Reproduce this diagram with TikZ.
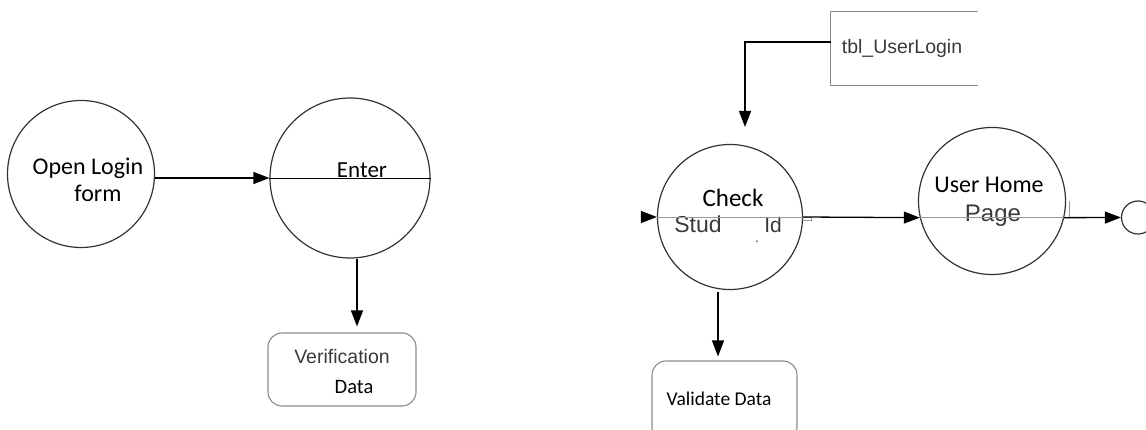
\documentclass[tikz,border=0pt]{standalone}
\usepackage{fontspec}
\setmainfont{Carlito}
\newfontfamily\arialf{Liberation Sans}
\usetikzlibrary{arrows.meta,calc}
\definecolor{circ}{HTML}{333333}
\definecolor{boxg}{HTML}{8A8A8A}
\definecolor{txtg}{HTML}{3A3A3A}
\definecolor{lineg}{HTML}{9A9A9A}
\tikzset{
  proc/.style={circle,draw=circ,line width=1.2pt,inner sep=0pt},
  ext/.style={draw=boxg,line width=1.1pt,rounded corners=14pt,inner sep=0pt},
  arr/.style={line width=1.3pt,-{Triangle[length=16pt,width=12pt]}},
  thin/.style={line width=0.9pt},
  lbl/.style={inner sep=0pt,anchor=base},
  cal/.style={lbl,font=\fontsize{24}{28}\selectfont},
  ari/.style={lbl,text=txtg,font=\arialf\fontsize{20}{24}\selectfont},
}
\begin{document}
\begin{tikzpicture}[x=1pt,y=-1pt]
\useasboundingbox (0,0) rectangle (1146,430);
\clip (0,0) rectangle (1146,430);
% left part
\node[proc,minimum size=147pt] (open) at (81,174) {};
\node[proc,minimum size=160pt] (enter) at (350,178) {};
\node[ext,minimum width=148pt,minimum height=73pt] (verif) at (342,369.5) {};
\node[cal] (t1) at (88,175) {Open Login};
\node[cal] (t2) at (98,202) {form};
\node[cal,font=\fontsize{23}{27}\selectfont] (t3) at (362,178) {Enter};
\node[ari,font=\arialf\fontsize{19.5}{23}\selectfont] (t4) at (342,363) {Verification};
\node[cal,font=\fontsize{20.5}{24}\selectfont] (t5) at (354,393) {Data};
\draw[thin,black] (enter.west) -- (enter.east);
\draw[arr] (open.east |- enter.west) -- (enter.west);
\coordinate (ea) at ($(enter.south)+(7,0)$);
\draw[arr,shorten >=6pt] (ea) -- (ea |- verif.north);
% right part
\node[inner sep=0pt,minimum width=147pt,minimum height=73pt] (tbl) at (904.5,48.5) {};
\draw[draw=boxg,line width=1.1pt] (tbl.north east) -- (tbl.north west) -- (tbl.south west) -- (tbl.south east);
\node[ari,font=\arialf\fontsize{19.5}{23}\selectfont] (t6) at (902,54) {tbl\_UserLogin};
\node[proc,minimum size=145pt] (check) at (730,217) {};
\node[proc,minimum size=147pt] (home) at (992,201) {};
\node[ext,minimum width=145pt,minimum height=80pt] (valid) at (724.5,401) {};
\node[circle,draw=circ,line width=1.2pt,minimum size=33pt,inner sep=0pt] (end) at (1138,217.5) {};
\node[cal,font=\fontsize{25}{29}\selectfont] (t7) at (733,207) {Check};
\node[ari,font=\arialf\fontsize{23}{27}\selectfont] (t8) at (698,233) {Stud};
\node[ari,font=\arialf\fontsize{21}{25}\selectfont] (t9) at (773,233) {Id};
\node[ari,font=\arialf\fontsize{14}{16}\selectfont] (t10) at (757,243) {.};
\node[cal] (t11) at (989,193) {User Home};
\node[ari,font=\arialf\fontsize{24}{28}\selectfont] (t12) at (993,222) {Page};
\node[cal,font=\fontsize{19.5}{23}\selectfont] (t13) at (719,405) {Validate Data};
% connectors
\coordinate (tin) at (tbl.west |- 0,42);
\coordinate (c1) at (745,127);
\draw[arr] (tin) -| (c1);
\coordinate (cin) at (641,217);
\draw[arr] (cin) -- (check.west);
\draw[thin,lineg] (check.west) -- (check.east);
\draw[thin,lineg] (check.east) -- ++(8,0) -- ++(0,3) -- ++(-8,0);
\draw[arr] (check.east) -- (home.193);
\draw[thin,lineg] (home.193) -- (home.-13);
\coordinate (tk) at (1069,217.5);
\draw[thin,lineg] (tk) -- ++(0,-16);
\draw[arr] (home.-13) -- (end.west);
\coordinate (cb) at (718,292);
\draw[arr,shorten >=4pt] (cb) -- (cb |- valid.north);
\end{tikzpicture}
\end{document}
